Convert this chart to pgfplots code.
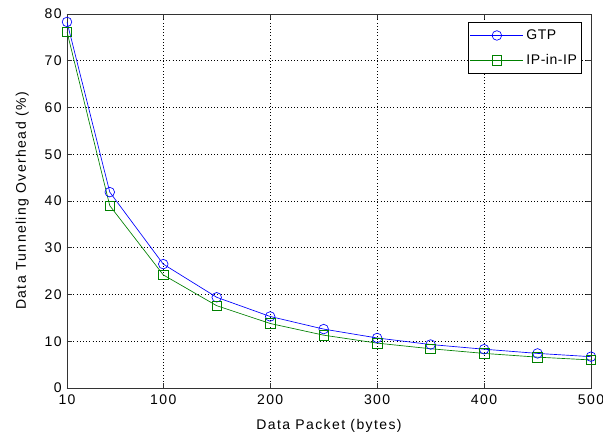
\documentclass[border=0pt]{standalone}
\usepackage{fontspec}
\setmainfont{Liberation Sans}
\newfontfamily\mfont[LetterSpace=10]{Liberation Sans}
\newfontfamily\lfont[LetterSpace=4]{Liberation Sans}
\usepackage{pgfplots}
\pgfplotsset{compat=1.18}
\begin{document}
\begin{tikzpicture}
\begin{axis}[
  scale only axis,
  width=393pt, height=280.5pt,
  xmin=10, xmax=500, ymin=0, ymax=80,
  xtick={10,100,200,300,400,500},
  ytick={0,10,20,30,40,50,60,70,80},
  tick align=inside,
  tick pos=both,
  major tick length=3.5pt,
  grid=major,
  grid style={black, dotted, line width=0.6pt},
  axis line style={black!80, line width=0.6pt},
  tick style={black!80, line width=0.6pt},
  /pgf/number format/assume math mode=true,
  ticklabel style={font=\mfont\fontsize{10.5}{12}\selectfont},
  xticklabel style={yshift=-1.5pt},
  yticklabel style={xshift=-0.5pt},
  label style={font=\mfont\fontsize{10.5}{12}\selectfont},
  xlabel={Data Packet (bytes)},
  ylabel={Data Tunneling Overhead (\%)},
  xlabel style={yshift=-4.5pt},
  ylabel style={yshift=5pt},
  legend style={at={(0.983,0.979)}, anchor=north east, font=\lfont\fontsize{10.5}{12}\selectfont,
    draw=black, line width=0.6pt, inner xsep=1.5pt, inner ysep=3.5pt, row sep=5.5pt,
    nodes={inner xsep=2pt}},
  legend cell align=left,
  legend image code/.code={
    \draw[mark repeat=2,mark phase=2] plot coordinates {(0cm,0cm) (0.7cm,0cm) (1.4cm,0cm)};
  },
]
\addplot[color={rgb,1:red,0;green,0;blue,1}, line width=0.5pt, mark=o, mark size=3.6pt, mark options={solid, line width=0.5pt}]
  coordinates {(10,78.3) (50,41.9) (100,26.5) (150,19.4) (200,15.3) (250,12.6) (300,10.7) (350,9.3) (400,8.3) (450,7.4) (500,6.7)};
\addlegendentry{GTP}
\addplot[color={rgb,1:red,0;green,0.5;blue,0}, line width=0.5pt, mark=square, mark size=3.6pt, mark options={solid, line width=0.5pt}]
  coordinates {(10,76.2) (50,39.0) (100,24.2) (150,17.6) (200,13.8) (250,11.3) (300,9.6) (350,8.4) (400,7.4) (450,6.6) (500,6.0)};
\addlegendentry{IP-in-IP}
\end{axis}
\pgfresetboundingbox
\path (current axis.south west) ++(-50.25pt,-37.5pt) coordinate (bbA);
\path (current axis.north east) ++(9pt,10.5pt) coordinate (bbB);
\useasboundingbox (bbA) rectangle (bbB);
\end{tikzpicture}
\end{document}
